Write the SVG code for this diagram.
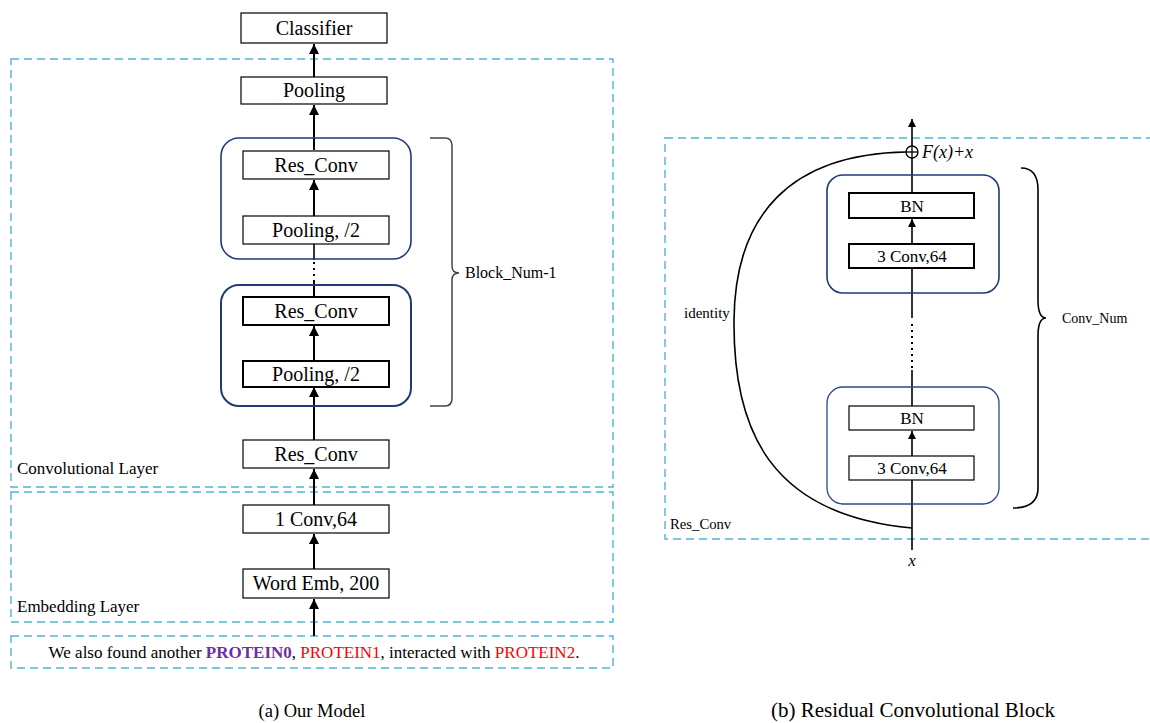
<svg xmlns="http://www.w3.org/2000/svg" width="1150" height="723" viewBox="0 0 1150 723">
<style>
text{font-family:"Liberation Serif","Times New Roman",serif;fill:#000}
.box{fill:#fff;stroke:#000;stroke-width:1.2}
.boxb{fill:#fff;stroke:#000;stroke-width:2}
.t18{font-size:20px;text-anchor:middle}
.t16{font-size:17px;text-anchor:middle}
.lbl{font-size:17px}
.dash{fill:none;stroke:#4DB6D6;stroke-width:1.4;stroke-dasharray:8 5}
.blk{fill:none;stroke:#1F3A78;stroke-width:1.6}
.blk2{fill:none;stroke:#1F3A78;stroke-width:2}
.blk3{fill:none;stroke:#2B4A8A;stroke-width:1.3}
.ln{stroke:#000;stroke-width:2;fill:none}
.ln1{stroke:#000;stroke-width:1.6;fill:none}
.dot{stroke:#000;stroke-width:2;fill:none;stroke-dasharray:2 4}
.brace{fill:none;stroke:#444;stroke-width:1.5}
</style>
<defs>
<marker id="ah" viewBox="0 0 10 10" refX="10" refY="5" markerWidth="5" markerHeight="5" orient="auto" markerUnits="strokeWidth">
<path d="M0,0 L10,5 L0,10 z" fill="#000"/>
</marker>
</defs>

<g id="regions">
<rect class="dash" x="11" y="59" width="602" height="428"/>
<rect class="dash" x="11" y="492" width="602" height="130"/>
<rect class="dash" x="11" y="636" width="602" height="32"/>
<rect class="dash" x="665" y="138" width="490" height="401"/>
<text class="lbl" x="17" y="474">Convolutional Layer</text>
<text class="lbl" x="17" y="612">Embedding Layer</text>
<text x="670" y="529" style="font-size:14.7px">Res_Conv</text>
</g>

<g id="connectors">
<line class="ln" x1="314" y1="77" x2="314" y2="44" marker-end="url(#ah)"/>
<line class="ln" x1="314" y1="150" x2="314" y2="105" marker-end="url(#ah)"/>
<line class="ln" x1="314" y1="216" x2="314" y2="180" marker-end="url(#ah)"/>
<line class="ln1" x1="314" y1="244" x2="314" y2="260"/>
<line class="dot" x1="314" y1="262" x2="314" y2="282"/>
<line class="ln" x1="314" y1="282" x2="314" y2="297"/>
<line class="ln" x1="314" y1="361" x2="314" y2="326" marker-end="url(#ah)"/>
<line class="ln" x1="314" y1="440" x2="314" y2="387" marker-end="url(#ah)"/>
<line class="ln" x1="314" y1="505" x2="314" y2="469" marker-end="url(#ah)"/>
<line class="ln" x1="314" y1="569" x2="314" y2="534" marker-end="url(#ah)"/>
<line class="ln" x1="314" y1="636" x2="314" y2="599" marker-end="url(#ah)"/>

<line class="ln1" x1="912" y1="550" x2="912" y2="480"/>
<line class="ln1" x1="912" y1="456" x2="912" y2="431" marker-end="url(#ah)"/>
<line class="ln1" x1="912" y1="406" x2="912" y2="370"/>
<line class="dot" x1="912" y1="324" x2="912" y2="368"/>
<line class="ln1" x1="912" y1="318" x2="912" y2="268"/>
<line class="ln1" x1="912" y1="244" x2="912" y2="219" marker-end="url(#ah)"/>
<line class="ln1" x1="912" y1="193" x2="912" y2="158"/>
<line class="ln1" x1="912" y1="146" x2="912" y2="119" marker-end="url(#ah)"/>
<path class="ln1" d="M906 152 C790 154 735 215 734 320 C733 430 770 515 912 528"/>
</g>

<g id="classifier"><rect class="box" x="241" y="13" width="146" height="30"/><text class="t18" x="314" y="35">Classifier</text></g>
<g id="pooling"><rect class="box" x="241" y="77" width="146" height="27"/><text class="t18" x="314" y="97">Pooling</text></g>

<g id="block-upper">
<rect class="blk" x="221" y="138" width="190" height="121" rx="18"/>
<rect class="box" x="243" y="151" width="146" height="28"/><text class="t18" x="316" y="172">Res_Conv</text>
<rect class="box" x="243" y="216" width="146" height="28"/><text class="t18" x="316" y="237">Pooling, /2</text>
</g>
<g id="block-lower">
<rect class="blk2" x="221" y="285" width="190" height="121" rx="18"/>
<rect class="boxb" x="243" y="297" width="146" height="28"/><text class="t18" x="316" y="318">Res_Conv</text>
<rect class="boxb" x="243" y="361" width="146" height="26"/><text class="t18" x="316" y="381">Pooling, /2</text>
</g>
<g id="resconv"><rect class="box" x="243" y="440" width="146" height="28"/><text class="t18" x="316" y="461">Res_Conv</text></g>
<g id="conv1"><rect class="box" x="243" y="505" width="146" height="28"/><text class="t18" x="316" y="526">1 Conv,64</text></g>
<g id="wordemb"><rect class="box" x="243" y="569" width="146" height="29"/><text class="t18" x="316" y="590">Word Emb, 200</text></g>
<g id="sentence"><text x="314" y="658" style="font-size:17px;text-anchor:middle">We also found another <tspan style="fill:#7030A0;font-weight:bold">PROTEIN0</tspan>, <tspan style="fill:#FF0000">PROTEIN1</tspan>, interacted with <tspan style="fill:#FF0000">PROTEIN2</tspan>.</text></g>

<g id="brace-block">
<path class="brace" d="M430 138 H445 Q452 138 452 146 V266 Q452 273 459 273 Q452 273 452 280 V398 Q452 406 445 406 H430"/>
<text x="465" y="278" style="font-size:16px">Block_Num-1</text>
</g>

<g id="add">
<circle cx="912" cy="152" r="6" fill="#fff" stroke="#000" stroke-width="1.3"/>
<line x1="906" y1="152" x2="918" y2="152" stroke="#000" stroke-width="1.3"/>
<line x1="912" y1="146" x2="912" y2="158" stroke="#000" stroke-width="1.3"/>
<text x="922" y="158" style="font-size:18px;font-style:italic">F(x)+x</text>
</g>
<g id="rblock-upper">
<rect class="blk" x="827" y="175" width="172" height="118" rx="16"/>
<rect class="boxb" x="849" y="193" width="125" height="25"/><text class="t16" x="912" y="212">BN</text>
<rect class="boxb" x="849" y="244" width="125" height="24"/><text class="t16" x="912" y="262">3 Conv,64</text>
</g>
<g id="rblock-lower">
<rect class="blk3" x="827" y="387" width="172" height="117" rx="16"/>
<rect class="box" x="849" y="406" width="125" height="24"/><text class="t16" x="912" y="424">BN</text>
<rect class="box" x="849" y="456" width="125" height="24"/><text class="t16" x="912" y="474">3 Conv,64</text>
</g>
<g id="identity"><text x="684" y="318" style="font-size:15px">identity</text></g>
<g id="x-input"><text x="912" y="566" style="font-size:17px;font-style:italic;text-anchor:middle">x</text></g>
<g id="brace-conv">
<path class="ln1" d="M1021 168 Q1038 168 1038 190 V300 Q1038 318 1046 318 Q1038 318 1038 336 V488 Q1038 508 1013 508"/>
<text x="1062" y="323" style="font-size:14px">Conv_Num</text>
</g>

<g id="captions">
<text style="font-size:18.5px;text-anchor:middle" x="312" y="717">(a) Our Model</text>
<text style="font-size:21px;text-anchor:middle" x="913" y="717">(b) Residual Convolutional Block</text>
</g>
</svg>
